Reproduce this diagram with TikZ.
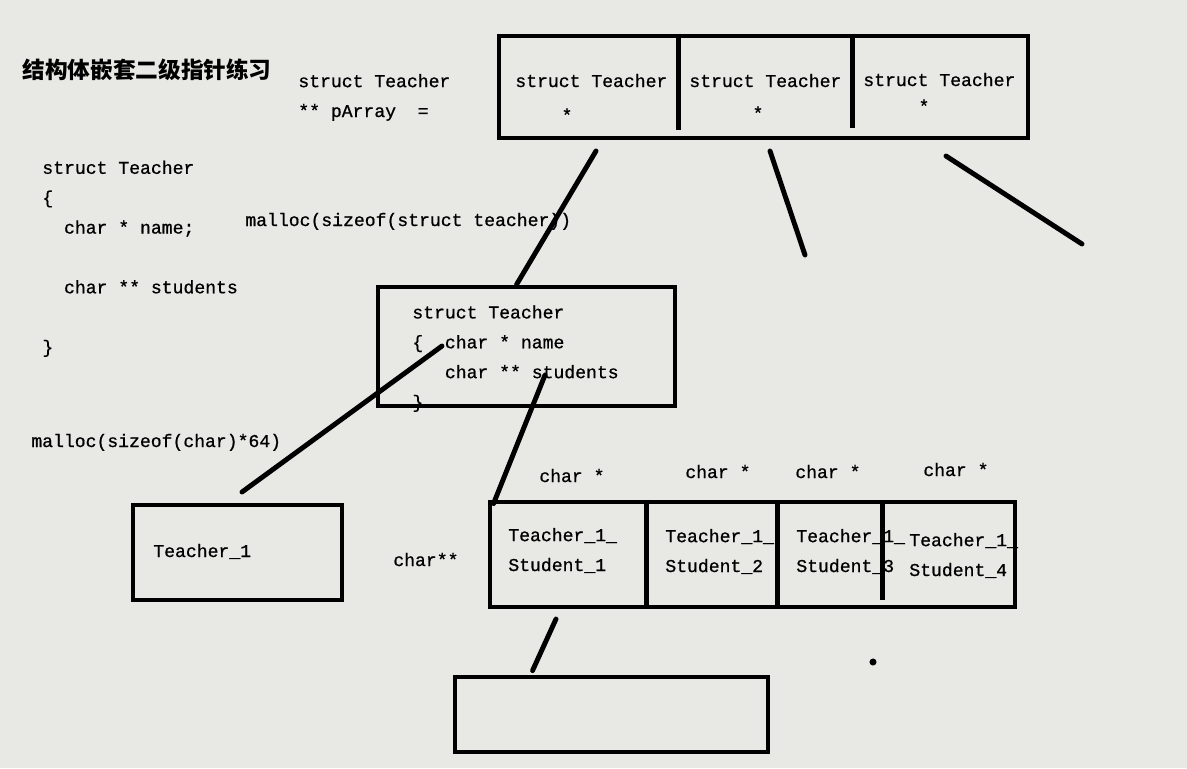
\documentclass[tikz,border=0pt]{standalone}
\usepackage{fontspec}
\setmonofont{Liberation Mono}[FakeBold=0.8]
\newfontfamily\cjk{Noto Sans CJK SC}
\usetikzlibrary{positioning,calc,fit}
\definecolor{figbg}{RGB}{232,232,229}
\tikzset{
  txt/.style={font=\ttfamily\fontsize{10.3}{17}\selectfont,inner sep=0pt,
              anchor=base west,align=left},
  box/.style={draw,line width=2.8pt,inner sep=0pt},
  div/.style={line width=2.4pt},
  wire/.style={line width=2.8pt,line cap=round},
}
\begin{document}
\begin{tikzpicture}[x=0.02cm,y=-0.02cm]
\fill[figbg] (0,0) rectangle (1187,768);
\useasboundingbox (0,0) rectangle (1187,768);

% texts (base = last line)
\node[anchor=west,inner sep=0pt,font=\cjk\bfseries\fontsize{12.9}{15}\selectfont]
     (title) at (22,70) {结构体嵌套二级指针练习};
\node[txt] (decl) at (298,117) {struct Teacher\\** pArray~ =};
\node[txt] (code) at (42,353)
     {struct Teacher\\\{\\~ char * name;\\ \\~ char ** students\\ \\\}};
\node[txt] (mals) at (245,226) {malloc(sizeof(struct teacher))};
\node[txt] (malc) at (31,447) {malloc(sizeof(char)*64)};

\node[txt] (pc1) at (515,87) {struct Teacher};
\node[txt] (pc2) at (689,87) {struct Teacher};
\node[txt] (pc3) at (863,86) {struct Teacher};
\node[txt,anchor=center] (ps1) at (567,115) {*};
\node[txt,anchor=center] (ps2) at (758,113) {*};
\node[txt,anchor=center] (ps3) at (924,106) {*};

\node[txt] (mtxt) at (412,408)
     {struct Teacher\\\{~ char * name\\\hphantom{xxx}char ** students\\\}};

\node[txt] (t1txt) at (153,557) {Teacher\_1};
\node[txt] (cpp) at (393,566) {char**};

\node[txt] (cs1) at (539,482) {char *};
\node[txt] (cs2) at (685,478) {char *};
\node[txt] (cs3) at (795,478) {char *};
\node[txt] (cs4) at (923,476) {char *};
\node[txt] (st1) at (508,571) {Teacher\_1\_\\Student\_1};
\node[txt] (st2) at (665,572) {Teacher\_1\_\\Student\_2};
\node[txt] (st3) at (796,572) {Teacher\_1\_\\Student\_3};
\node[txt] (st4) at (909,576) {Teacher\_1\_\\Student\_4};

% boxes
\node[box,fit={(499,36)(1028,138)}] (parr) {};
\node[box,fit={(378,287)(675,406)}] (mid) {};
\node[box,fit={(133,505)(342,600)}] (tone) {};
\node[box,fit={(490,502)(1015,607)}] (sarr) {};
\node[box,fit={(455,677)(768,752)}] (bot) {};

\draw[div] ($(parr.north west)+(182,0)$) -- ++(0,96);
\draw[div] ($(parr.north west)+(356,0)$) -- ++(0,94);
\draw[div] ($(sarr.north west)+(159,0)$) -- ++(0,105);
\draw[div] ($(sarr.north west)+(290,0)$) -- ++(0,105);
\draw[div] ($(sarr.north west)+(395,0)$) -- ++(0,100);

% pointers
\coordinate (a1) at (596,151);
\coordinate (a2) at (770,151);
\coordinate (a2e) at (805,255);
\coordinate (a3) at (946,156);
\coordinate (a3e) at (1082,244);
\coordinate (b1) at (442,346);
\coordinate (b1e) at (242,492);
\coordinate (b2) at (545,375);
\coordinate (b3) at (556,619);

\draw[wire] (a1) -- ($(mid.north west)+(141,0)$);
\draw[wire] (a2) -- (a2e);
\draw[wire] (a3) -- (a3e);
\draw[wire] (b1) -- (b1e);
\draw[wire] (b2) -- ($(sarr.north west)+(6,4)$);
\draw[wire] (b3) -- ($(bot.north west)+(80,-4)$);

\fill (873,662) circle[radius=2pt];
\end{tikzpicture}
\end{document}
